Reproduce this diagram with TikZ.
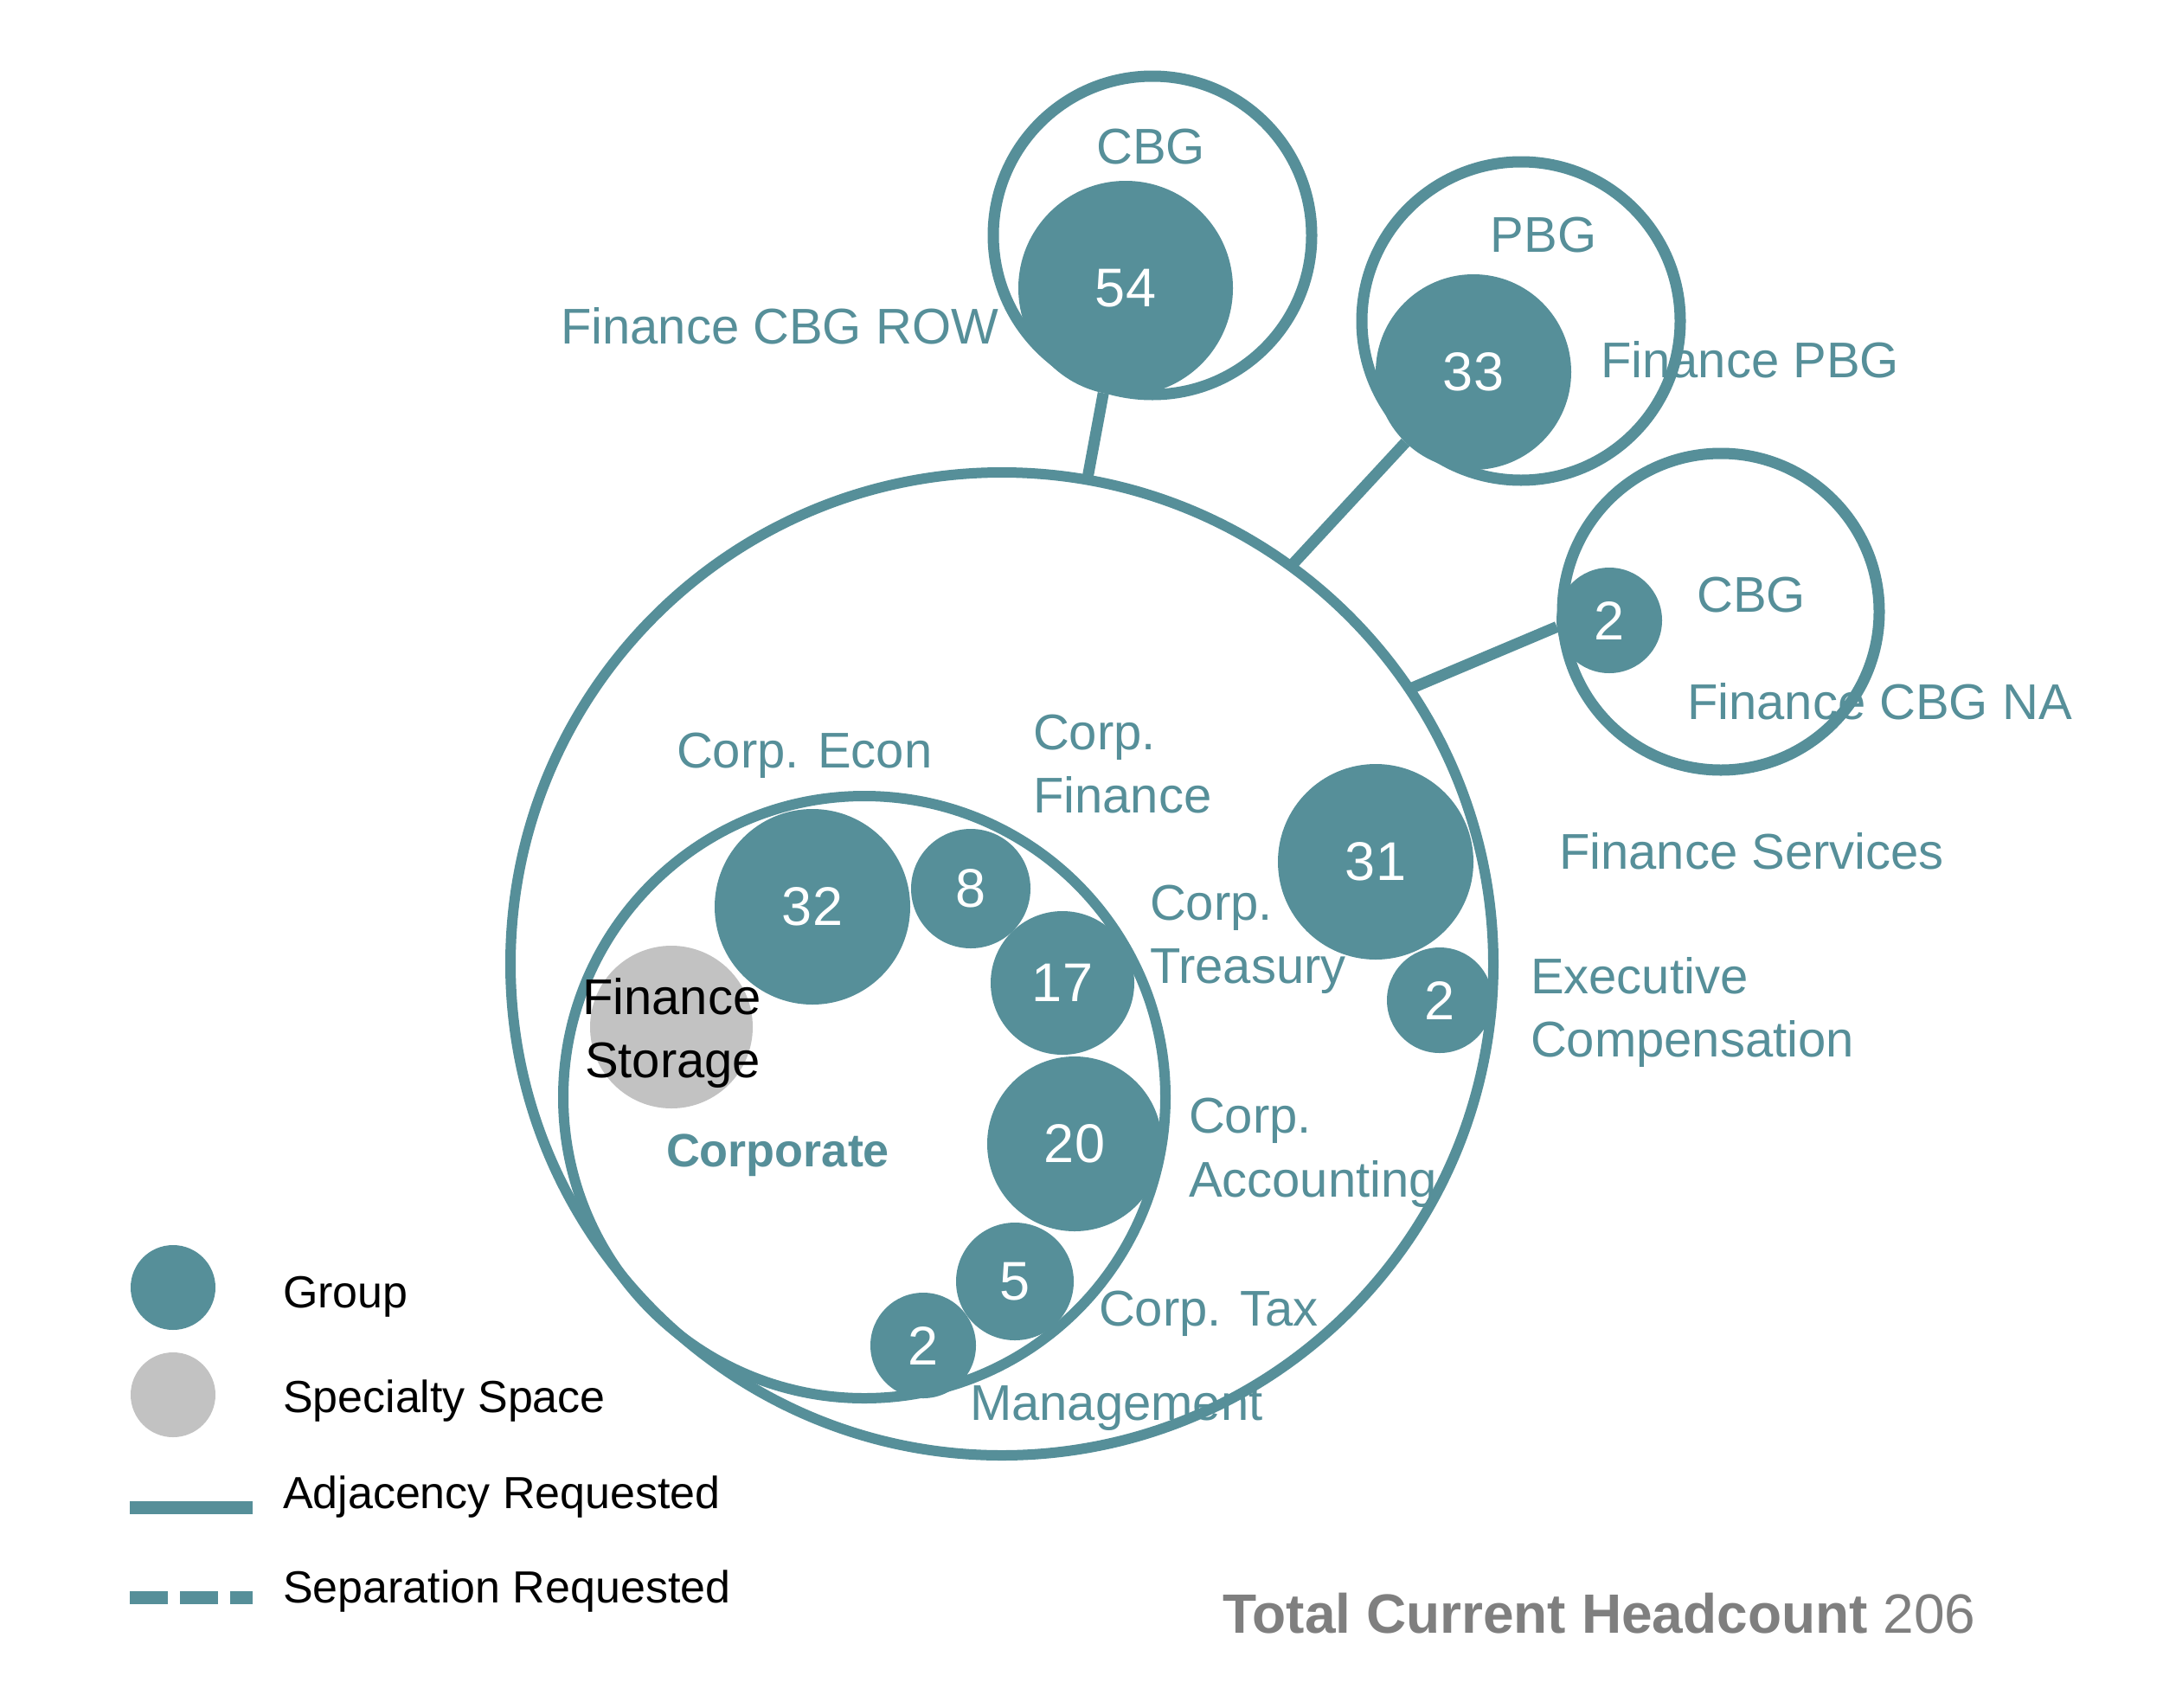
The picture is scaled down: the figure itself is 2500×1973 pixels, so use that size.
\documentclass[tikz,border=0pt]{standalone}
\usepackage{fontspec}
\setmainfont{Liberation Sans}
\definecolor{fsteal}{RGB}{86,143,153}
\definecolor{fsgray}{RGB}{194,194,194}
\definecolor{fstotal}{RGB}{127,127,127}
\newcommand\fslbl{\fontsize{58pt}{73pt}\selectfont}
\newcommand\fsnum{\fontsize{63pt}{74pt}\selectfont}
\newcommand\fsleg{\fontsize{52pt}{64pt}\selectfont}
\newcommand\fstot{\fontsize{64pt}{76pt}\selectfont}
\begin{document}
\begin{tikzpicture}[x=1pt,y=-1pt,
  ring/.style={circle,draw=fsteal,line width=12pt,inner sep=0pt,outer sep=0pt},
  grp/.style={circle,fill=fsteal,text=white,inner sep=0pt,outer sep=0pt,font=\fsnum},
  spec/.style={circle,fill=fsgray,inner sep=0pt,outer sep=0pt},
  adj/.style={draw=fsteal,line width=13pt},
  lbl/.style={anchor=base west,inner sep=0pt,outer sep=0pt,text=fsteal,font=\fslbl},
  clbl/.style={anchor=base,inner sep=0pt,outer sep=0pt,text=fsteal,font=\fslbl},
  leg/.style={anchor=base west,inner sep=0pt,outer sep=0pt,text=black,font=\fsleg}]
\path[use as bounding box,fill=white] (0,0) rectangle (2500,1973);

% outlines
\node[ring,minimum size=1136pt] (big) at (1158,1114) {};
\node[ring,minimum size=696pt] (corp) at (999,1268) {};
\node[ring,line width=13pt,minimum size=368pt] (cbgrow) at (1332,272) {};
\node[ring,line width=13pt,minimum size=368pt] (pbg) at (1758,371) {};
\node[ring,line width=13pt,minimum size=366pt] (cbgna) at (1989,707) {};

% groups
\node[grp,minimum size=248pt] (c54) at (1301,333) {54};
\node[grp,minimum size=226pt] (c33) at (1703,430) {33};
\node[grp,minimum size=122pt] (cna) at (1860,717) {2};
\node[grp,minimum size=226pt] (c31) at (1590,996) {31};
\node[grp,minimum size=122pt] (cexec) at (1664,1156) {2};
\node[grp,minimum size=226pt] (c32) at (939,1048) {32};
\node[grp,minimum size=138pt] (c8) at (1122,1027) {8};
\node[grp,minimum size=166pt] (c17) at (1228,1136) {17};
\node[grp,minimum size=202pt] (c20) at (1242,1322) {20};
\node[grp,minimum size=136pt] (c5) at (1173,1481) {5};
\node[grp,minimum size=122pt] (cmgmt) at (1067,1555) {2};
\node[spec,minimum size=188pt] (stor) at (776,1187) {};

% adjacency connectors
\draw[adj] (c54.258) -- (big.80);
\draw[adj] (c33.226) -- (big.54);
\draw[adj] (cna.187) -- (big.34);

% labels
\node[lbl] (tcbgrow) at (648,397) {Finance CBG ROW};
\node[clbl] (tcbg1) at (1330,189) {CBG};
\node[clbl] (tpbg) at (1784,291) {PBG};
\node[lbl] (tfpbg) at (1850,436) {Finance PBG};
\node[clbl] (tcbg2) at (2024,707) {CBG};
\node[lbl] (tfcbgna) at (1950,831) {Finance CBG NA};
\node[lbl] (tecon) at (782,887) {Corp. Econ};
\node[lbl] (tfin1) at (1194,866) {Corp.};
\node[lbl] (tfin2) at (1194,939) {Finance};
\node[lbl] (ttre1) at (1329,1063) {Corp.};
\node[lbl] (ttre2) at (1329,1136) {Treasury};
\node[lbl] (tfs) at (1802,1004) {Finance Services};
\node[lbl] (tex1) at (1769,1148) {Executive};
\node[lbl] (tex2) at (1769,1221) {Compensation};
\node[lbl] (tacc1) at (1374,1309) {Corp.};
\node[lbl] (tacc2) at (1374,1383) {Accounting};
\node[lbl] (ttax) at (1270,1532) {Corp. Tax};
\node[lbl] (tmgmt) at (1121,1641) {Management};
\node[lbl,text=black] (tstor1) at (673,1172) {Finance};
\node[lbl,text=black] (tstor2) at (676,1245) {Storage};
\node[lbl,font=\fontsize{54pt}{68pt}\selectfont\bfseries] (tcorp) at (770,1348) {Corporate};

% legend
\node[grp,minimum size=98pt] (lgrp) at (200,1488) {};
\node[spec,minimum size=98pt] (lspec) at (200,1612) {};
\coordinate (la1) at (150,1742);
\coordinate (la2) at (292,1742);
\coordinate (ls1) at (150,1846);
\coordinate (ls2) at (292,1846);
\draw[draw=fsteal,line width=15pt] (la1) -- (la2);
\draw[draw=fsteal,line width=15pt,dash pattern=on 44pt off 14pt] (ls1) -- (ls2);
\node[leg] (tlg1) at (327,1511) {Group};
\node[leg] (tlg2) at (327,1632) {Specialty Space};
\node[leg] (tlg3) at (327,1743) {Adjacency Requested};
\node[leg] (tlg4) at (327,1852) {Separation Requested};

% total
\node[anchor=base west,inner sep=0pt,text=fstotal,font=\fstot] (ttot) at (1413,1887) {\textbf{Total Current Headcount} 206};
\end{tikzpicture}
\end{document}
